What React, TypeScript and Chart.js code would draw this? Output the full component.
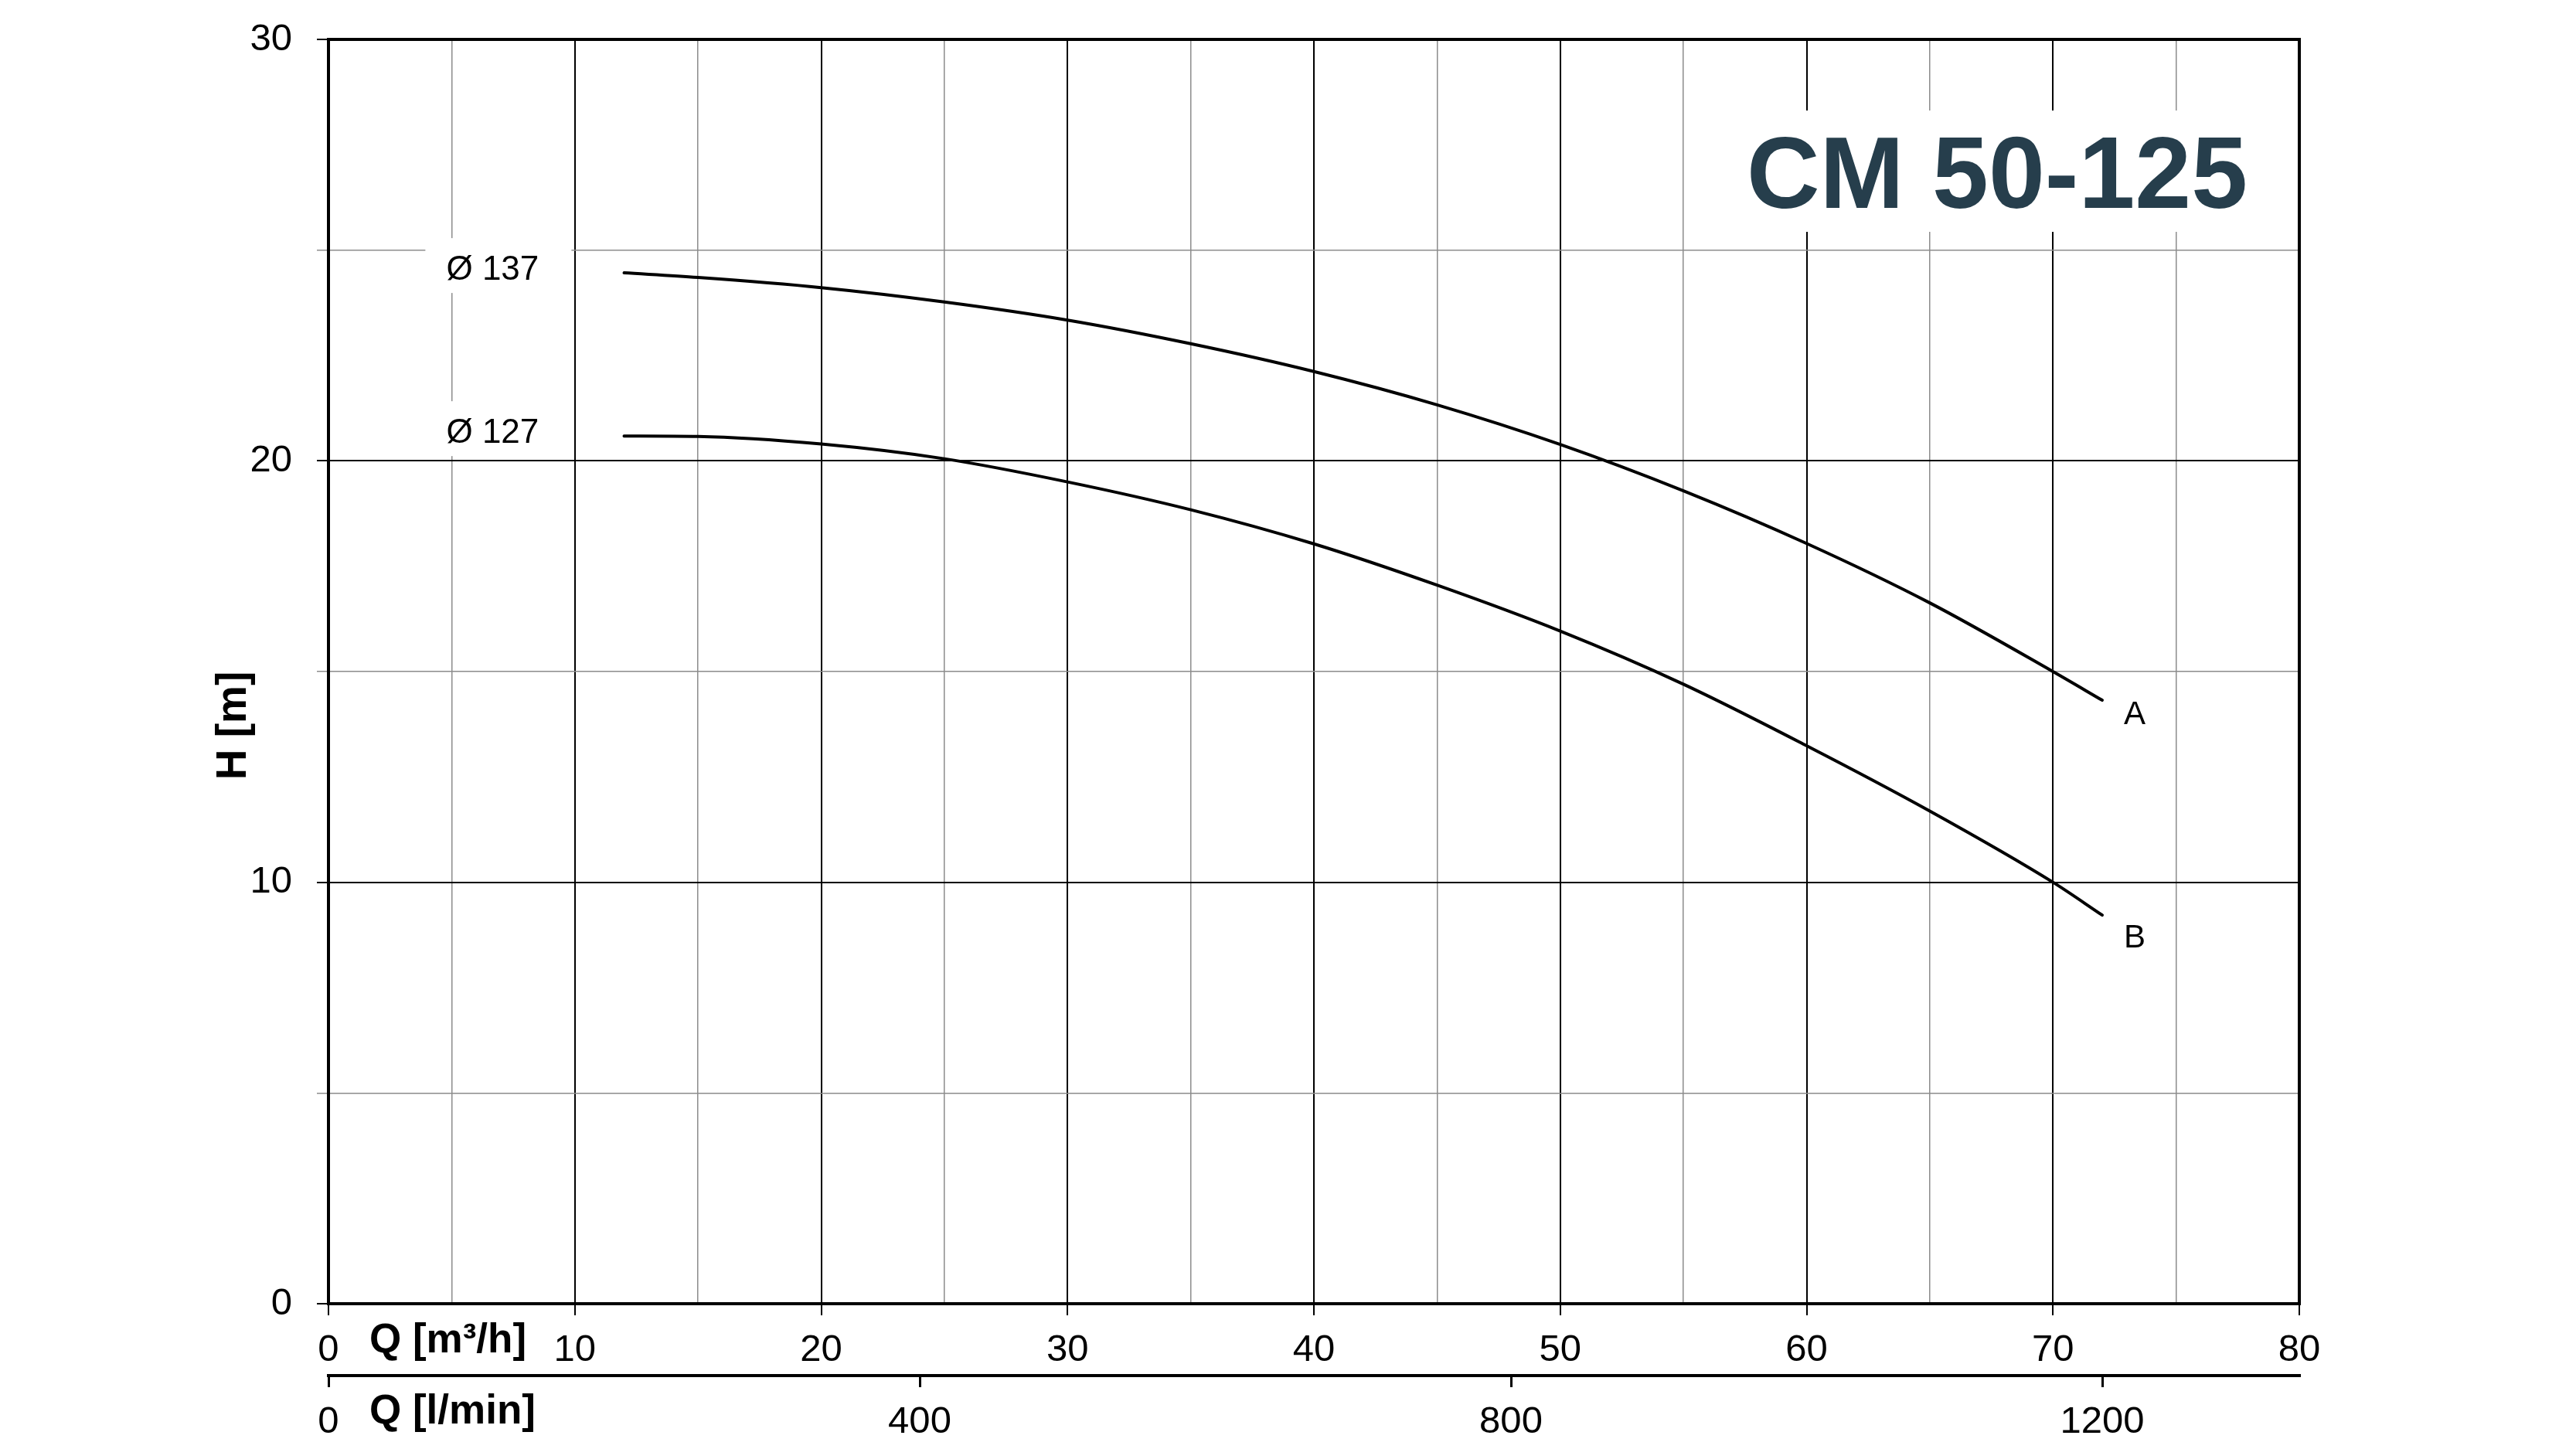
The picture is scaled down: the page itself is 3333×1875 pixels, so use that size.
import { useEffect, useRef } from 'react';
import { Chart, registerables, Plugin } from 'chart.js';

Chart.register(...registerables);

// Pump curves: Q in m³/h, H in m
const flowA = [12, 15, 20, 25, 30, 35, 40, 45, 50, 55, 60, 65, 70, 72];
const headA = [24.46, 24.35, 24.11, 23.77, 23.34, 22.78, 22.12, 21.33, 20.39, 19.29, 18.04, 16.63, 15.0, 14.32];
const flowB = [12, 15, 20, 25, 30, 35, 40, 45, 50, 55, 60, 65, 70, 72];
const headB = [20.59, 20.58, 20.4, 20.05, 19.5, 18.84, 18.03, 17.05, 15.96, 14.7, 13.24, 11.69, 10.0, 9.22];

const impellers = ['Ø 137', 'Ø 127'];
const curveTags = ['A', 'B'];
const modelName = 'CM 50-125';

// second flow scale in l/min (80 m³/h = 1333.3 l/min)
const lpmTicks = [0, 400, 800, 1200];

const FONT = '"Liberation Sans", Arial, sans-serif';
const MAJOR = '#000000';
const MINOR = '#8c8c8c';

const overlay: Plugin<'line'> = {
  id: 'pumpOverlay',
  beforeDatasetsDraw(chart) {
    const { ctx, chartArea: area, scales } = chart;
    const x = scales.x;
    const y = scales.y;
    ctx.save();

    // title box, hides the grid behind it
    ctx.fillStyle = '#ffffff';
    ctx.fillRect(area.right - 740, area.top + 92, 710, 157);
    ctx.fillStyle = '#263e4c';
    ctx.font = `bold 131px ${FONT}`;
    ctx.textAlign = 'left';
    ctx.textBaseline = 'alphabetic';
    ctx.fillText(modelName, area.right - 715, area.top + 218);

    // impeller diameter labels at the start of each curve
    const starts = [
      { q: flowA[0], h: headA[0] },
      { q: flowB[0], h: headB[0] },
    ];
    ctx.font = `44px ${FONT}`;
    ctx.textAlign = 'center';
    ctx.textBaseline = 'middle';
    starts.forEach((s, i) => {
      const cx = x.getPixelForValue(5) + 53;
      const cy = y.getPixelForValue(s.h) - 3;
      ctx.fillStyle = '#ffffff';
      ctx.fillRect(cx - 87, cy - 42, 189, 71);
      ctx.fillStyle = '#000000';
      ctx.fillText(impellers[i], cx, cy);
    });
    ctx.restore();
  },
  afterDatasetsDraw(chart) {
    const { ctx, chartArea: area } = chart;
    ctx.save();
    ctx.strokeStyle = '#000000';
    ctx.lineWidth = 4;
    ctx.strokeRect(area.left, area.top, area.right - area.left, area.bottom - area.top);
    ctx.restore();
  },
  afterDraw(chart) {
    const { ctx, chartArea: area, scales } = chart;
    const x = scales.x;
    const y = scales.y;
    ctx.save();
    ctx.fillStyle = '#000000';

    // curve tags A / B beside the curve ends
    const ends = [
      { q: flowA[flowA.length - 1], h: headA[headA.length - 1], dy: 19 },
      { q: flowB[flowB.length - 1], h: headB[headB.length - 1], dy: 30 },
    ];
    ctx.font = `42px ${FONT}`;
    ctx.textAlign = 'center';
    ctx.textBaseline = 'middle';
    ends.forEach((e, i) => {
      ctx.fillText(curveTags[i], x.getPixelForValue(e.q) + 42, y.getPixelForValue(e.h) + e.dy);
    });

    // axis titles
    ctx.font = `bold 53px ${FONT}`;
    ctx.textAlign = 'left';
    ctx.textBaseline = 'alphabetic';
    ctx.fillText('Q [m³/h]', x.getPixelForValue(0) + 53, area.bottom + 63);
    ctx.fillText('Q [l/min]', x.getPixelForValue(0) + 53, area.bottom + 155);

    ctx.font = `bold 55px ${FONT}`;
    ctx.translate(area.left - 122, (area.top + area.bottom) / 2 + 70);
    ctx.rotate(-Math.PI / 2);
    ctx.textAlign = 'center';
    ctx.textBaseline = 'middle';
    ctx.fillText('H [m]', 0, 0);
    ctx.restore();
  },
};

export default function App() {
  const canvasRef = useRef<HTMLCanvasElement>(null);
  const chartRef = useRef<Chart | null>(null);

  useEffect(() => {
    if (!canvasRef.current) return;
    if (chartRef.current) chartRef.current.destroy();

    const isMajor = (v: number) => Math.abs(v % 10) < 1e-6;

    chartRef.current = new Chart(canvasRef.current, {
      type: 'line',
      data: {
        datasets: [
          {
            label: impellers[0],
            data: flowA.map((q, i) => ({ x: q, y: headA[i] })),
            borderColor: '#000000',
            borderWidth: 4,
            pointRadius: 0,
            cubicInterpolationMode: 'monotone',
            borderCapStyle: 'round',
          },
          {
            label: impellers[1],
            data: flowB.map((q, i) => ({ x: q, y: headB[i] })),
            borderColor: '#000000',
            borderWidth: 4,
            pointRadius: 0,
            cubicInterpolationMode: 'monotone',
            borderCapStyle: 'round',
          },
        ],
      },
      options: {
        animation: false,
        responsive: true,
        maintainAspectRatio: false,
        devicePixelRatio: 1,
        layout: { padding: { left: 0, top: 51, right: 358, bottom: 0 } },
        plugins: {
          legend: { display: false },
          tooltip: { enabled: false },
        },
        scales: {
          x: {
            type: 'linear',
            position: 'bottom',
            min: 0,
            max: 80,
            afterFit: (scale) => {
              scale.height = 93;
            },
            border: { display: false },
            grid: {
              color: (c) => (isMajor(c.tick.value) ? MAJOR : MINOR),
              lineWidth: (c) => (isMajor(c.tick.value) ? 2 : 1.5),
              tickColor: (c) => (isMajor(c.tick.value) ? MAJOR : 'rgba(0,0,0,0)'),
              tickWidth: 2,
              tickLength: 15,
            },
            ticks: {
              stepSize: 5,
              autoSkip: false,
              maxRotation: 0,
              padding: 16,
              color: '#000000',
              font: { family: FONT, size: 49 },
              callback: (v) => (isMajor(Number(v)) ? String(v) : ''),
            },
          },
          x2: {
            type: 'linear',
            position: 'bottom',
            min: 0,
            max: (80 * 1000) / 60,
            afterFit: (scale) => {
              scale.height = 95;
            },
            afterBuildTicks: (scale) => {
              scale.ticks = lpmTicks.map((v) => ({ value: v }));
            },
            border: { display: true, color: '#000000', width: 4 },
            grid: {
              drawOnChartArea: false,
              color: '#000000',
              lineWidth: 3,
              tickLength: 15,
            },
            ticks: {
              autoSkip: false,
              maxRotation: 0,
              padding: 16,
              color: '#000000',
              font: { family: FONT, size: 49 },
              callback: (v) => String(v),
            },
          },
          y: {
            type: 'linear',
            min: 0,
            max: 30,
            afterFit: (scale) => {
              scale.width = 425;
              // labels may overhang; keep the plot top where the layout padding puts it
              scale.paddingTop = 0;
              scale.paddingBottom = 0;
            },
            border: { display: false },
            grid: {
              color: (c) => (isMajor(c.tick.value) ? MAJOR : MINOR),
              lineWidth: (c) => (isMajor(c.tick.value) ? 2 : 1.5),
              tickLength: 15,
            },
            ticks: {
              stepSize: 5,
              autoSkip: false,
              padding: 32,
              color: '#000000',
              font: { family: FONT, size: 49 },
              callback: (v) => (isMajor(Number(v)) ? String(v) : ''),
            },
          },
        },
      },
      plugins: [overlay],
    });

    return () => {
      if (chartRef.current) {
        chartRef.current.destroy();
        chartRef.current = null;
      }
    };
  }, []);

  return (
    <div style={{ position: 'fixed', left: 0, top: 0, width: 3333, height: 1875, background: '#ffffff' }}>
      <canvas ref={canvasRef}></canvas>
    </div>
  );
}
